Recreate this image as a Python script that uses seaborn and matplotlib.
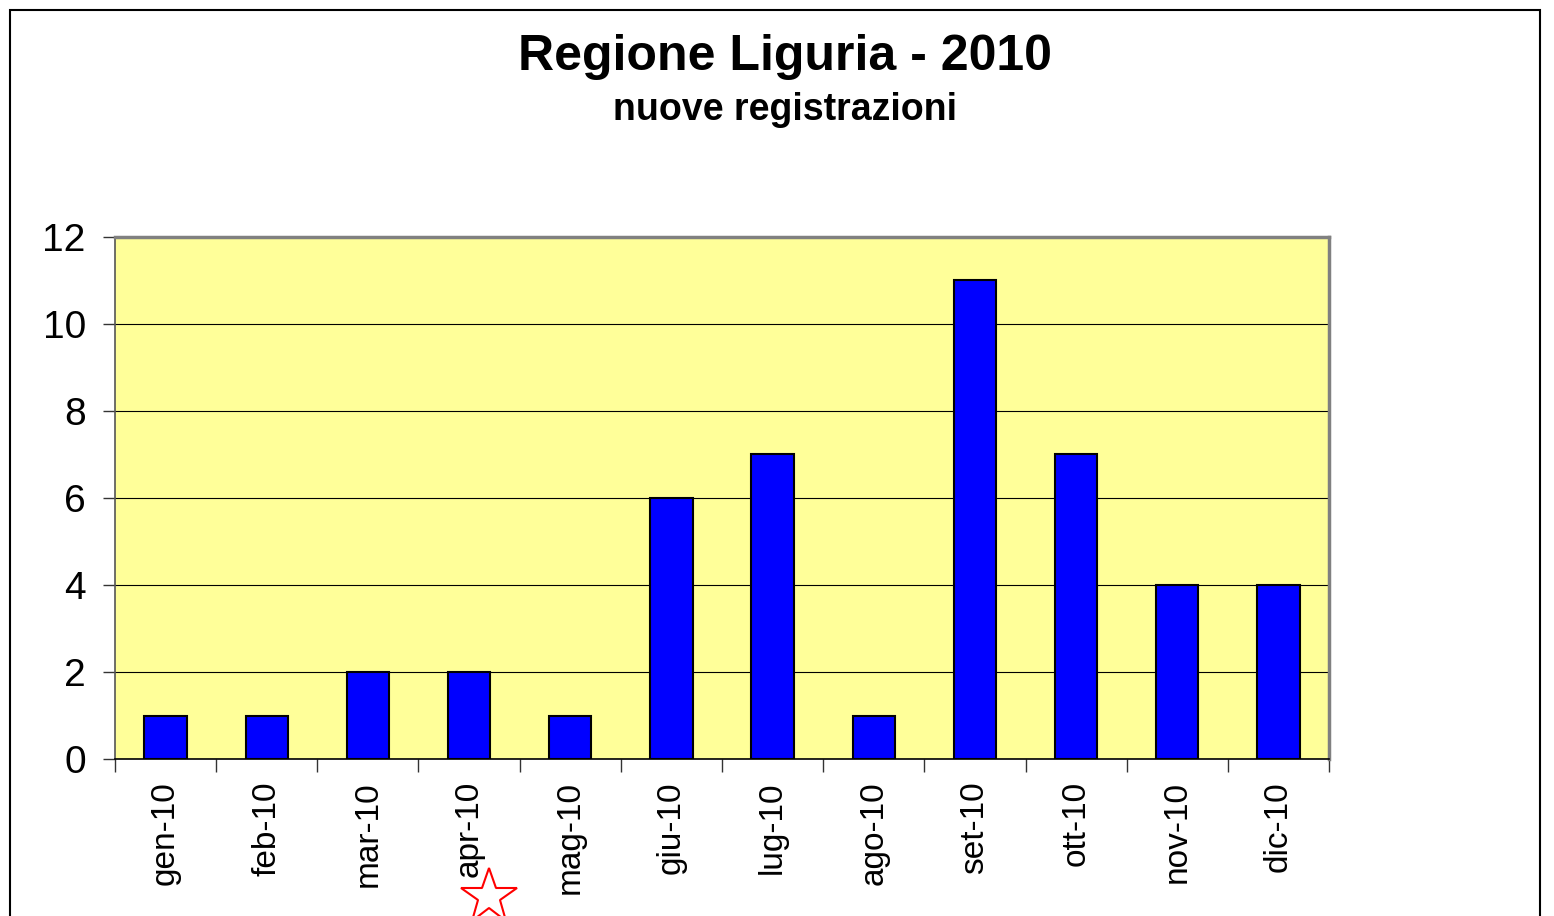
import matplotlib
matplotlib.use("Agg")
import matplotlib.pyplot as plt
import seaborn as sns
import pandas as pd
from matplotlib.patches import Rectangle

# data
mesi = ['gen-10', 'feb-10', 'mar-10', 'apr-10', 'mag-10', 'giu-10',
        'lug-10', 'ago-10', 'set-10', 'ott-10', 'nov-10', 'dic-10']
registrazioni = [1, 1, 2, 2, 1, 6, 7, 1, 11, 7, 4, 4]

df = pd.DataFrame({'mese': mesi, 'n': registrazioni})

sns.set_style('white')
plt.rcParams['font.family'] = ['Liberation Sans', 'DejaVu Sans']
plt.rcParams['text.color'] = 'black'
plt.rcParams['xtick.color'] = 'black'
plt.rcParams['ytick.color'] = 'black'
plt.rcParams['xtick.bottom'] = True
plt.rcParams['ytick.left'] = True

fig = plt.figure(figsize=(15.54, 9.16), dpi=100)
ax = fig.add_axes([115/1554, 1-759/916, (1329-115)/1554, (759-237)/916])
ax.set_facecolor('#FFFF99')

sns.barplot(data=df, x='mese', y='n', color='#0000FF', width=0.42,
            edgecolor='black', linewidth=1.5, saturation=1, ax=ax, zorder=3)

ax.set_ylim(0, 12)
ax.set_xlim(-0.5, 11.5)
ax.set_yticks(range(0, 13, 2))
ax.yaxis.grid(True, color='black', linewidth=0.8, zorder=0)
ax.set_axisbelow(True)
ax.set_xlabel('')
ax.set_ylabel('')

# x ticks at category boundaries, labels at centres
ax.set_xticks([i - 0.5 for i in range(13)], minor=False)
ax.set_xticklabels([])
ax.set_xticks(range(12), minor=True)
ax.set_xticklabels(mesi, minor=True, rotation=90, fontsize=24)
ax.tick_params(axis='x', which='major', bottom=True, direction='out', length=9,
               width=1, color='#333333')
ax.tick_params(axis='x', which='minor', bottom=True, length=0, pad=16)
ax.tick_params(axis='y', left=True, direction='out', length=9, width=1,
               color='#333333', labelsize=28, pad=12)

for side in ['top', 'right']:
    ax.spines[side].set_color('#808080')
    ax.spines[side].set_linewidth(2.5)
ax.spines['left'].set_color('#555555')
ax.spines['left'].set_linewidth(1.2)
ax.spines['bottom'].set_color('black')
ax.spines['bottom'].set_linewidth(1.2)

fig.text(785/1554, 1-57/916, 'Regione Liguria - 2010', ha='center', va='center',
         fontsize=36, fontweight='bold', color='black')
fig.text(785/1554, 1-110/916, 'nuove registrazioni', ha='center', va='center',
         fontsize=27, fontweight='bold', color='black')

# outer chart frame
fig.patches.append(Rectangle((10/1554, -0.05), (1540-10)/1554, 1-10/916 + 0.05,
                             transform=fig.transFigure, fill=False,
                             edgecolor='black', linewidth=1.5))

# red star below apr-10
ax.plot([489/1554], [1-897/916], marker='*', markersize=42, markerfacecolor='white',
        markeredgecolor='red', markeredgewidth=1.5, transform=fig.transFigure,
        clip_on=False, zorder=5)

fig.savefig('out.png', dpi=100)
